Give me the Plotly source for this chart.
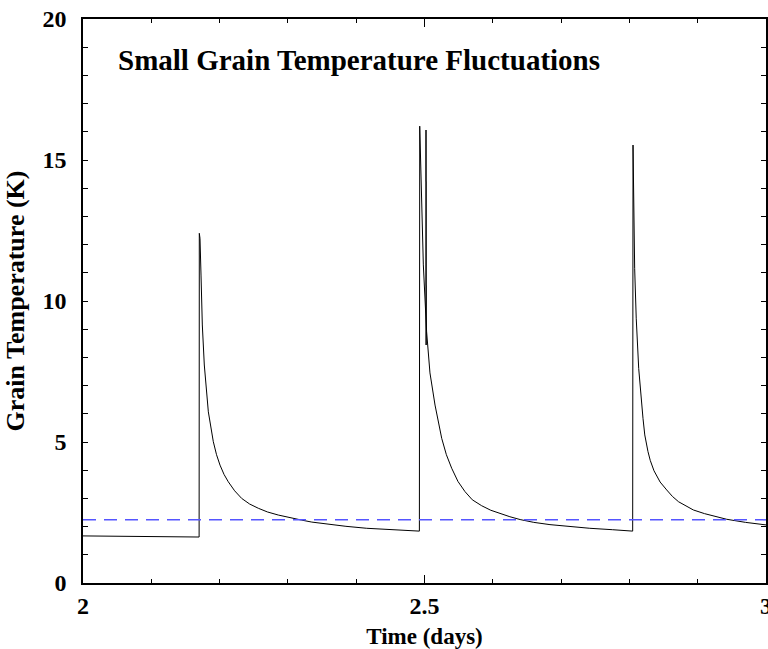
import plotly.graph_objects as go

# Grain temperature time series (days, K)
time_days = [2.000, 2.170, 2.1703, 2.1713, 2.1728, 2.1747, 2.1776, 2.1835, 2.1908,
             2.1955, 2.2006, 2.2065, 2.2127, 2.2220, 2.2323, 2.2440, 2.2567, 2.2700,
             2.2859, 2.3000, 2.3202, 2.3350, 2.3568, 2.3850, 2.4154, 2.4600, 2.4925,
             2.4930, 2.4958, 2.4983, 2.5031, 2.5080, 2.5154, 2.5252, 2.5320, 2.5398,
             2.5490, 2.5593, 2.5700, 2.5837, 2.5970, 2.6105, 2.6250, 2.6400, 2.6600,
             2.6837, 2.7100, 2.7420, 2.7750, 2.8048,
             2.8053, 2.8063, 2.8077, 2.8100, 2.8136, 2.8199, 2.8225, 2.8272, 2.8305,
             2.8360, 2.8450, 2.8546, 2.8630, 2.8720, 2.8820, 2.8936, 2.9100, 2.9250,
             2.9424, 2.9700, 3.0000]
grain_temp = [1.67, 1.63, 12.40, 12.22, 10.92, 9.15, 7.73, 6.07, 5.01,
              4.55, 4.18, 3.85, 3.59, 3.27, 3.00, 2.80, 2.65, 2.52,
              2.41, 2.33, 2.23, 2.16, 2.09, 2.01, 1.94, 1.88, 1.84,
              16.20, 13.05, 11.28, 8.91, 7.45, 6.31, 5.13, 4.55, 4.07,
              3.60, 3.24, 2.95, 2.74, 2.58, 2.46, 2.35, 2.25, 2.15,
              2.07, 2.00, 1.94, 1.89, 1.84,
              15.53, 12.93, 11.16, 9.39, 7.61, 5.84, 5.25, 4.66, 4.35,
              3.98, 3.58, 3.30, 3.07, 2.88, 2.74, 2.59, 2.46, 2.36,
              2.26, 2.15, 2.06]

# second hit just after 2.5 days
spike_time = [2.5022, 2.5024]
spike_temp = [16.06, 8.44]

# reference (mean) temperature level
ref_time = [2.0, 3.0]
ref_temp = [2.24, 2.24]

x_ticks = [2, 2.5, 3]
x_tick_labels = ["2", "2.5", "3"]
y_ticks = [0, 5, 10, 15, 20]
y_tick_labels = ["0", "5", "10", "15", "20"]

FONT = "Liberation Serif, Times New Roman, serif"

fig = go.Figure()
fig.add_trace(go.Scatter(x=time_days, y=grain_temp, mode="lines",
                         line=dict(color="black", width=1), showlegend=False))
fig.add_trace(go.Scatter(x=spike_time, y=spike_temp, mode="lines",
                         line=dict(color="black", width=1.5), showlegend=False))
fig.add_trace(go.Scatter(x=ref_time, y=ref_temp, mode="lines",
                         line=dict(color="#5555ff", width=1.5, dash="13px,8px"),
                         showlegend=False))

fig.add_annotation(x=0.048, y=0.9275, xref="paper", yref="paper",
                   text="Small Grain Temperature Fluctuations", showarrow=False,
                   xanchor="left", yanchor="middle",
                   font=dict(family=FONT, size=29, color="black", weight="bold"))

axis_common = dict(showline=True, linecolor="black", linewidth=1.5, mirror="ticks",
                   ticks="inside", tickcolor="black", tickwidth=1, automargin=False,
                   showgrid=False, zeroline=False, ticklabeloverflow="allow",
                   tickfont=dict(family=FONT, size=24, color="black", weight="bold"))

fig.update_xaxes(range=[2, 3], tickmode="array", tickvals=x_ticks, ticktext=x_tick_labels,
                 ticklen=8,
                 minor=dict(dtick=0.1, tick0=2, ticklen=4, ticks="inside", tickcolor="black", showgrid=False),
                 title=dict(text="Time (days)", standoff=10,
                            font=dict(family=FONT, size=23, color="black", weight="bold")),
                 **axis_common)
fig.update_yaxes(range=[0, 20], tickmode="array", tickvals=y_ticks, ticktext=y_tick_labels,
                 ticklen=5, ticklabelstandoff=10,
                 minor=dict(dtick=1, tick0=0, ticklen=5, ticks="inside", tickcolor="black", showgrid=False),
                 title=dict(text="Grain Temperature (K)", standoff=10,
                            font=dict(family=FONT, size=26, color="black", weight="bold")),
                 **axis_common)

fig.update_layout(width=768, height=649, margin=dict(l=83, r=2, t=19, b=66),
                  plot_bgcolor="white", paper_bgcolor="white")

fig.write_html("out.html", config={"displayModeBar": False},
               post_script="document.body.style.margin='0';document.body.style.overflow='hidden';")
